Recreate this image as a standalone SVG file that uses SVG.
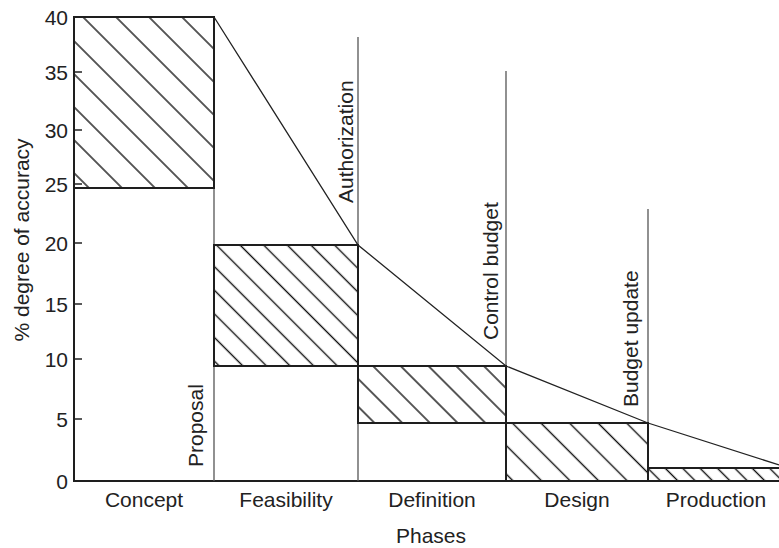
<svg xmlns="http://www.w3.org/2000/svg" width="779" height="548" viewBox="0 0 779 548">
<style>
  text { font-family: "Liberation Sans", Arial, sans-serif; font-size: 21px; fill: #222; }
  .tick { text-anchor: end; }
  .mid { text-anchor: middle; }
  .edge { stroke: #1e1e1e; stroke-width: 2; fill: none; }
  .box { stroke: #1e1e1e; stroke-width: 2; }
  .thin { stroke: #555; stroke-width: 1.3; fill: none; }
  .trend { stroke: #222; stroke-width: 1.3; fill: none; }
  .hl { stroke: #111; stroke-width: 1.4; }
</style>
<defs>
  <pattern id="h1" patternUnits="userSpaceOnUse" width="23.33" height="23.33" patternTransform="translate(66,0) rotate(-45) translate(-11.665,0)"><line class="hl" x1="11.665" y1="-5" x2="11.665" y2="30"/></pattern>
  <pattern id="h2" patternUnits="userSpaceOnUse" width="16.7" height="16.7" patternTransform="translate(-5,0) rotate(-45) translate(-8.35,0)"><line class="hl" x1="8.35" y1="-5" x2="8.35" y2="25"/></pattern>
  <pattern id="h3" patternUnits="userSpaceOnUse" width="19.6" height="19.6" patternTransform="translate(7,0) rotate(-45) translate(-9.8,0)"><line class="hl" x1="9.8" y1="-5" x2="9.8" y2="25"/></pattern>
  <pattern id="h4" patternUnits="userSpaceOnUse" width="20.2" height="20.2" patternTransform="translate(175,0) rotate(-45) translate(-10.1,0)"><line class="hl" x1="10.1" y1="-5" x2="10.1" y2="25"/></pattern>
  <pattern id="h5" patternUnits="userSpaceOnUse" width="12.3" height="12.3" patternTransform="translate(197,0) rotate(-45) translate(-6.15,0)"><line class="hl" x1="6.15" y1="-5" x2="6.15" y2="20"/></pattern>
</defs>

<g id="axes">
  <line class="edge" x1="74" y1="17" x2="74" y2="481"/>
  <line class="edge" x1="73" y1="481" x2="779" y2="481"/>
  <g stroke="#222" stroke-width="1.5">
    <line x1="74" y1="17" x2="82" y2="17"/>
    <line x1="74" y1="72" x2="82" y2="72"/>
    <line x1="74" y1="130" x2="82" y2="130"/>
    <line x1="74" y1="184" x2="82" y2="184"/>
    <line x1="74" y1="243" x2="82" y2="243"/>
    <line x1="74" y1="304" x2="82" y2="304"/>
    <line x1="74" y1="359" x2="82" y2="359"/>
    <line x1="74" y1="419" x2="82" y2="419"/>
  </g>
  <text class="tick" x="68" y="24.5">40</text>
  <text class="tick" x="68" y="79.5">35</text>
  <text class="tick" x="68" y="137.5">30</text>
  <text class="tick" x="68" y="191.5">25</text>
  <text class="tick" x="68" y="250.5">20</text>
  <text class="tick" x="68" y="311.5">15</text>
  <text class="tick" x="68" y="366.5">10</text>
  <text class="tick" x="68" y="426.5">5</text>
  <text class="tick" x="68" y="488.5">0</text>
  <text class="mid" transform="translate(29,240) rotate(-90)">% degree of accuracy</text>
  <text class="mid" x="431" y="543">Phases</text>
</g>

<g id="milestones">
  <line class="thin" x1="214" y1="188" x2="214" y2="481"/>
  <line class="thin" x1="358" y1="37" x2="358" y2="481"/>
  <line class="thin" x1="506" y1="71" x2="506" y2="481"/>
  <line class="thin" x1="648" y1="209" x2="648" y2="481"/>
  <text transform="translate(203,467) rotate(-90)">Proposal</text>
  <text transform="translate(353,203) rotate(-90)">Authorization</text>
  <text transform="translate(498,340) rotate(-90)">Control budget</text>
  <text transform="translate(638,407) rotate(-90)">Budget update</text>
</g>

<g id="concept">
  <rect x="74" y="17" width="140" height="171" fill="url(#h1)" class="box"/>
  <text class="mid" x="144" y="507">Concept</text>
</g>
<g id="feasibility">
  <rect x="214" y="245" width="144" height="121" fill="url(#h2)" class="box"/>
  <text class="mid" x="286" y="507">Feasibility</text>
</g>
<g id="definition">
  <rect x="358" y="366" width="148" height="57" fill="url(#h3)" class="box"/>
  <text class="mid" x="432" y="507">Definition</text>
</g>
<g id="design">
  <rect x="506" y="423" width="142" height="58" fill="url(#h4)" class="box"/>
  <text class="mid" x="577" y="507">Design</text>
</g>
<g id="production">
  <rect x="648" y="468" width="140" height="13" fill="url(#h5)" class="box"/>
  <text class="mid" x="716" y="507">Production</text>
</g>

<g id="connectors">
  <polyline class="trend" points="214,17 358,245 506,366 648,423 779,465"/>
</g>
</svg>
